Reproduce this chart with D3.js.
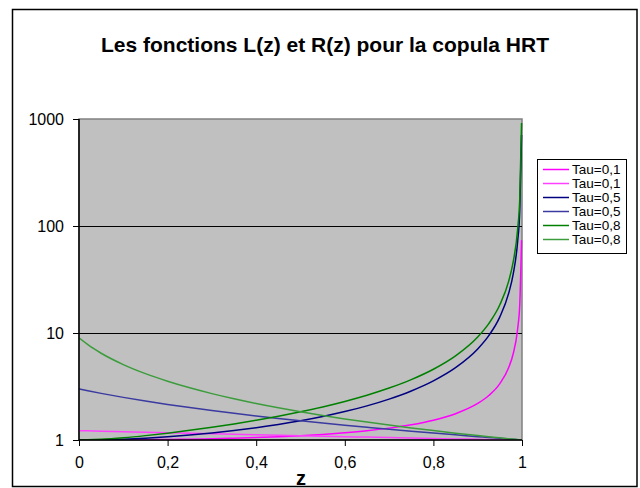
<!DOCTYPE html>
<html>
<head>
<meta charset="utf-8">
<script src="https://cdn.jsdelivr.net/npm/d3@7"></script>
<style>
  body { margin: 0; background: #fff; }
  text { font-family: "Liberation Sans", Arial, sans-serif; }
</style>
</head>
<body>
<div id="chart"></div>
<script>
// values (z on x, log scale on y)
var zValues = [0, 0.02, 0.05, 0.1, 0.15, 0.2, 0.25, 0.3, 0.35, 0.4, 0.45, 0.5, 0.55, 0.6,
               0.65, 0.7, 0.75, 0.8, 0.85, 0.9, 0.925, 0.95, 0.97, 0.98, 0.99, 0.995, 0.999];

var rTau01 = [1, 1.0001, 1.0006, 1.0024, 1.0057, 1.0106, 1.0175, 1.0266, 1.0384, 1.0535, 1.0727, 1.097,
              1.128, 1.168, 1.220, 1.291, 1.388, 1.532, 1.762, 2.196, 2.603, 3.364, 4.758, 6.369, 10.78, 18.76, 73.8];
var lTau01 = [1.222, 1.217, 1.210, 1.196, 1.182, 1.170, 1.157, 1.145, 1.132, 1.120, 1.109, 1.097,
              1.086, 1.075, 1.064, 1.053, 1.043, 1.033, 1.024, 1.015, 1.011, 1.007, 1.004, 1.002, 1.001, 1.0005, 1.0001];
var rTau05 = [1, 1.0008, 1.0048, 1.0186, 1.0409, 1.0719, 1.1121, 1.1626, 1.2249, 1.3015, 1.3955, 1.512,
              1.658, 1.843, 2.085, 2.412, 2.874, 3.571, 4.741, 7.089, 9.441, 14.15, 23.58, 35.36, 70.71, 141.4, 707];
var lTau05 = [3, 2.885, 2.728, 2.503, 2.313, 2.150, 2.009, 1.885, 1.776, 1.678, 1.591, 1.512,
              1.440, 1.375, 1.315, 1.259, 1.208, 1.161, 1.117, 1.075, 1.056, 1.036, 1.022, 1.014, 1.007, 1.0035, 1.0007];
var rTau08 = [1, 1.0028, 1.0151, 1.0502, 1.0988, 1.1589, 1.2305, 1.3148, 1.4136, 1.530, 1.668, 1.835,
              2.038, 2.293, 2.620, 3.057, 3.668, 4.585, 6.113, 9.170, 12.23, 18.34, 30.57, 45.85, 91.70, 183.4, 917];
var lTau08 = [9, 7.77, 6.47, 5.07, 4.17, 3.542, 3.075, 2.714, 2.427, 2.192, 1.998, 1.835,
              1.695, 1.575, 1.470, 1.378, 1.296, 1.224, 1.159, 1.101, 1.074, 1.048, 1.028, 1.019, 1.009, 1.0046, 1.0009];

var seriesNames = ["Tau=0,1", "Tau=0,1", "Tau=0,5", "Tau=0,5", "Tau=0,8", "Tau=0,8"];
var seriesColors = ["#ff00ff", "#ff40ff", "#000080", "#3a3aa0", "#008000", "#3c9c3c"];
var seriesValues = [rTau01, lTau01, rTau05, lTau05, rTau08, lTau08];

var xTicks = [0, 0.2, 0.4, 0.6, 0.8, 1];
var xTickLabels = ["0", "0,2", "0,4", "0,6", "0,8", "1"];
var yTicks = [1, 10, 100, 1000];

var width = 640, height = 488;
var plot = {left: 79, top: 119, right: 522, bottom: 440};

var svg = d3.select("#chart").append("svg")
    .attr("width", width)
    .attr("height", height);

// chart frame
svg.append("rect")
    .attr("x", 12.5).attr("y", 9.5)
    .attr("width", 624.5).attr("height", 477)
    .attr("fill", "#fff")
    .attr("stroke", "#000")
    .attr("stroke-width", 1.5);

svg.append("text")
    .attr("x", 325).attr("y", 52)
    .attr("text-anchor", "middle")
    .attr("font-size", "21px")
    .attr("font-weight", "bold")
    .text("Les fonctions L(z) et R(z) pour la copula HRT");

var xScale = d3.scaleLinear()
    .domain([0, 1])
    .range([plot.left, plot.right]);
var yScale = d3.scaleLog()
    .domain([1, 1000])
    .range([plot.bottom, plot.top]);

svg.append("rect")
    .attr("x", plot.left).attr("y", plot.top)
    .attr("width", plot.right - plot.left)
    .attr("height", plot.bottom - plot.top)
    .attr("fill", "#c0c0c0")
    .attr("stroke", "#808080")
    .attr("stroke-width", 1.5);

// gridlines
svg.append("g")
    .selectAll("line")
    .data([10, 100])
    .enter().append("line")
    .attr("x1", plot.left).attr("x2", plot.right)
    .attr("y1", function(d) { return Math.round(yScale(d)) + 0.5; })
    .attr("y2", function(d) { return Math.round(yScale(d)) + 0.5; })
    .attr("stroke", "#000")
    .attr("stroke-width", 1);

svg.append("clipPath")
    .attr("id", "plotClip")
  .append("rect")
    .attr("x", plot.left).attr("y", plot.top - 2)
    .attr("width", plot.right - plot.left + 1)
    .attr("height", plot.bottom - plot.top + 2);

var line = d3.line()
    .x(function(d, i) { return xScale(zValues[i]); })
    .y(function(d) { return yScale(d); })
    .curve(d3.curveMonotoneX);

svg.append("g")
    .attr("clip-path", "url(#plotClip)")
    .selectAll("path")
    .data(seriesValues)
    .enter().append("path")
    .attr("d", function(d) { return line(d); })
    .attr("fill", "none")
    .attr("stroke", function(d, i) { return seriesColors[i]; })
    .attr("stroke-width", 1.5);

// axes
var xAxis = svg.append("g")
    .attr("transform", "translate(0," + plot.bottom + ")")
    .call(d3.axisBottom(xScale)
      .tickValues(xTicks)
      .tickFormat(function(d, i) { return xTickLabels[i]; })
      .tickSize(6)
      .tickPadding(11));

var yAxis = svg.append("g")
    .attr("transform", "translate(" + plot.left + ",0)")
    .call(d3.axisLeft(yScale)
      .tickValues(yTicks)
      .tickFormat(d3.format("d"))
      .tickSize(6)
      .tickPadding(9));

[xAxis, yAxis].forEach(function(ax) {
  ax.select(".domain").attr("stroke", "#000").attr("stroke-width", 1.5);
  ax.selectAll(".tick line").attr("stroke", "#000");
  ax.selectAll("text")
    .attr("fill", "#000")
    .style("font-family", "'Liberation Sans', Arial, sans-serif")
    .style("font-size", "16px");
});
yAxis.select(".domain").attr("d", "M0," + plot.bottom + "V" + plot.top);
xAxis.select(".domain").attr("d", "M" + plot.left + ",0H" + plot.right);

svg.append("text")
    .attr("x", 301).attr("y", 485)
    .attr("text-anchor", "middle")
    .attr("font-size", "20px")
    .attr("font-weight", "bold")
    .text("z");

// legend
var legend = svg.append("g")
    .attr("transform", "translate(537,159)");

legend.append("rect")
    .attr("x", 0.5).attr("y", 0.5)
    .attr("width", 89).attr("height", 94)
    .attr("fill", "#fff")
    .attr("stroke", "#000")
    .attr("stroke-width", 1);

var items = legend.selectAll("g.item")
    .data(seriesNames)
    .enter().append("g")
    .attr("class", "item")
    .attr("transform", function(d, i) { return "translate(0," + (10.5 + i * 14) + ")"; });

items.append("line")
    .attr("x1", 6).attr("x2", 32)
    .attr("stroke", function(d, i) { return seriesColors[i]; })
    .attr("stroke-width", 1.5);

items.append("text")
    .attr("x", 35)
    .attr("dy", "0.35em")
    .attr("font-size", "13.5px")
    .text(function(d) { return d; });
</script>
</body>
</html>
